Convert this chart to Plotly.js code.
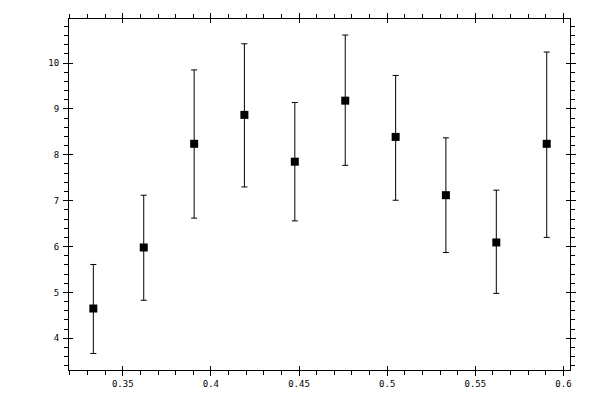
<!DOCTYPE html>
<html>
<head>
<meta charset="utf-8">
<script src="https://cdn.plot.ly/plotly-3.0.1.min.js"></script>
<style>
  html, body { margin: 0; padding: 0; background: #fff; }
  #chart { width: 600px; height: 400px; }
</style>
</head>
<body>
<div id="chart"></div>
<script>
// values
var xVals = [0.3333, 0.3619, 0.3905, 0.4190, 0.4476, 0.4762, 0.5048, 0.5333, 0.5619, 0.5905];
var yVals = [4.65, 5.98, 8.24, 8.87, 7.85, 9.18, 8.39, 7.12, 6.09, 8.24];
var yHigh = [5.61, 7.12, 9.85, 10.42, 9.14, 10.61, 9.73, 8.37, 7.23, 10.24];
var yLow  = [3.67, 4.83, 6.62, 7.30, 6.56, 7.77, 7.01, 5.87, 4.98, 6.20];

var errPlus = [], errMinus = [];
for (var i = 0; i < yVals.length; i++) {
  errPlus.push(yHigh[i] - yVals[i]);
  errMinus.push(yVals[i] - yLow[i]);
}

var xRange = [0.3195, 0.6037];
var yRange = [3.31, 10.96];

var trace1 = {
  x: xVals,
  y: yVals,
  type: 'scatter',
  mode: 'markers',
  marker: { symbol: 'square', size: 8, color: '#000' },
  error_y: {
    type: 'data',
    symmetric: false,
    array: errPlus,
    arrayminus: errMinus,
    color: '#000',
    thickness: 1,
    width: 3
  },
  hoverinfo: 'x+y'
};

// empty trace so the overlay axes get drawn (inside half of the major ticks)
var trace2 = {
  x: [], y: [],
  xaxis: 'x2', yaxis: 'y2',
  type: 'scatter', mode: 'markers',
  showlegend: false, hoverinfo: 'skip'
};

var tickFont = { family: 'DejaVu Sans Mono, monospace', size: 9, color: '#000' };

var layout = {
  width: 600,
  height: 400,
  showlegend: false,
  paper_bgcolor: '#fff',
  plot_bgcolor: '#fff',
  margin: { l: 69, r: 30, t: 19, b: 30 },
  xaxis: {
    range: xRange,
    showgrid: false,
    zeroline: false,
    showline: true,
    linecolor: '#000',
    linewidth: 1,
    mirror: 'ticks',
    ticks: 'outside',
    ticklen: 5,
    tickwidth: 1,
    tickcolor: '#000',
    tick0: 0,
    dtick: 0.05,
    tickfont: tickFont,
    minor: { ticks: 'outside', dtick: 0.01, tick0: 0, ticklen: 4, tickwidth: 1, tickcolor: '#000', showgrid: false },
    fixedrange: true
  },
  yaxis: {
    range: yRange,
    showgrid: false,
    zeroline: false,
    showline: true,
    linecolor: '#000',
    linewidth: 1,
    mirror: 'ticks',
    ticks: 'outside',
    ticklen: 5,
    tickwidth: 1,
    tickcolor: '#000',
    tick0: 0,
    dtick: 1,
    ticklabelstandoff: 2,
    tickfont: tickFont,
    minor: { ticks: 'outside', dtick: 0.2, tick0: 0, ticklen: 4, tickwidth: 1, tickcolor: '#000', showgrid: false },
    fixedrange: true
  },
  xaxis2: {
    overlaying: 'x',
    range: xRange,
    showgrid: false, zeroline: false, showline: false,
    mirror: 'ticks',
    ticks: 'inside', ticklen: 4, tickwidth: 1, tickcolor: '#000',
    tick0: 0, dtick: 0.05,
    showticklabels: false,
    fixedrange: true
  },
  yaxis2: {
    overlaying: 'y',
    range: yRange,
    showgrid: false, zeroline: false, showline: false,
    mirror: 'ticks',
    ticks: 'inside', ticklen: 4, tickwidth: 1, tickcolor: '#000',
    tick0: 0, dtick: 1,
    showticklabels: false,
    fixedrange: true
  }
};

var config = { displayModeBar: false, staticPlot: false };

Plotly.newPlot('chart', [trace1, trace2], layout, config);
</script>
</body>
</html>
